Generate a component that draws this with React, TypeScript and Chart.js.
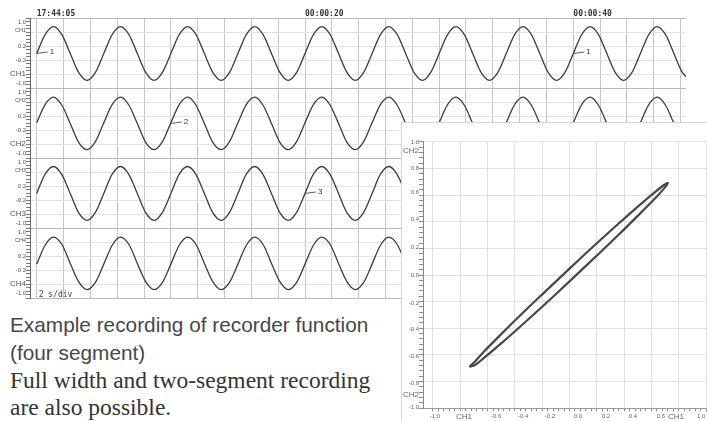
import React, { useEffect, useRef } from "react";
import { Chart, registerables } from "chart.js";

Chart.register(...registerables);

// ---------------- Recorder (four segment, 2 s/div) ----------------
const sampleTimes = [
  0, 0.625, 1.25, 1.875, 2.5, 3.125, 3.75, 4.375,
  5, 5.625, 6.25, 6.875, 7.5, 8.125, 8.75, 9.375,
  10, 10.625, 11.25, 11.875, 12.5, 13.125, 13.75, 14.375,
  15, 15.625, 16.25, 16.875, 17.5, 18.125, 18.75, 19.375,
  20, 20.625, 21.25, 21.875, 22.5, 23.125, 23.75, 24.375,
  25, 25.625, 26.25, 26.875, 27.5, 28.125, 28.75, 29.375,
  30, 30.625, 31.25, 31.875, 32.5, 33.125, 33.75, 34.375,
  35, 35.625, 36.25, 36.875, 37.5, 38.125, 38.75, 39.375,
  40, 40.625, 41.25, 41.875, 42.5, 43.125, 43.75, 44.375,
  45, 45.625, 46.25, 46.875, 47.5, 48.125, 48.75,
];

const ch1Values = [
  0, 0.54, 0.77, 0.54, 0, -0.54, -0.77, -0.54,
  0, 0.54, 0.77, 0.54, 0, -0.54, -0.77, -0.54,
  0, 0.54, 0.77, 0.54, 0, -0.54, -0.77, -0.54,
  0, 0.54, 0.77, 0.54, 0, -0.54, -0.77, -0.54,
  0, 0.54, 0.77, 0.54, 0, -0.54, -0.77, -0.54,
  0, 0.54, 0.77, 0.54, 0, -0.54, -0.77, -0.54,
  0, 0.54, 0.77, 0.54, 0, -0.54, -0.77, -0.54,
  0, 0.54, 0.77, 0.54, 0, -0.54, -0.77, -0.54,
  0, 0.54, 0.77, 0.54, 0, -0.54, -0.77, -0.54,
  0, 0.54, 0.77, 0.54, 0, -0.54, -0.77,
];
const ch2Values = [
  0.02, 0.54, 0.75, 0.52, 0, -0.54, -0.75, -0.52,
  0.02, 0.54, 0.75, 0.52, 0, -0.54, -0.75, -0.52,
  0.02, 0.54, 0.75, 0.52, 0, -0.54, -0.75, -0.52,
  0.02, 0.54, 0.75, 0.52, 0, -0.54, -0.75, -0.52,
  0.02, 0.54, 0.75, 0.52, 0, -0.54, -0.75, -0.52,
  0.02, 0.54, 0.75, 0.52, 0, -0.54, -0.75, -0.52,
  0.02, 0.54, 0.75, 0.52, 0, -0.54, -0.75, -0.52,
  0.02, 0.54, 0.75, 0.52, 0, -0.54, -0.75, -0.52,
  0.02, 0.54, 0.75, 0.52, 0, -0.54, -0.75, -0.52,
  0.02, 0.54, 0.75, 0.52, 0, -0.54, -0.75,
];
const ch3Values = [
  0, 0.55, 0.77, 0.54, 0, -0.55, -0.77, -0.54,
  0, 0.55, 0.77, 0.54, 0, -0.55, -0.77, -0.54,
  0, 0.55, 0.77, 0.54, 0, -0.55, -0.77, -0.54,
  0, 0.55, 0.77, 0.54, 0, -0.55, -0.77, -0.54,
  0, 0.55, 0.77, 0.54, 0, -0.55, -0.77, -0.54,
  0, 0.55, 0.77, 0.54, 0, -0.55, -0.77, -0.54,
  0, 0.55, 0.77, 0.54, 0, -0.55, -0.77, -0.54,
  0, 0.55, 0.77, 0.54, 0, -0.55, -0.77, -0.54,
  0, 0.55, 0.77, 0.54, 0, -0.55, -0.77, -0.54,
  0, 0.55, 0.77, 0.54, 0, -0.55, -0.77,
];
const ch4Values = [
  -0.02, 0.52, 0.75, 0.54, 0, -0.52, -0.75, -0.54,
  -0.02, 0.52, 0.75, 0.54, 0, -0.52, -0.75, -0.54,
  -0.02, 0.52, 0.75, 0.54, 0, -0.52, -0.75, -0.54,
  -0.02, 0.52, 0.75, 0.54, 0, -0.52, -0.75, -0.54,
  -0.02, 0.52, 0.75, 0.54, 0, -0.52, -0.75, -0.54,
  -0.02, 0.52, 0.75, 0.54, 0, -0.52, -0.75, -0.54,
  -0.02, 0.52, 0.75, 0.54, 0, -0.52, -0.75, -0.54,
  -0.02, 0.52, 0.75, 0.54, 0, -0.52, -0.75, -0.54,
  -0.02, 0.52, 0.75, 0.54, 0, -0.52, -0.75, -0.54,
  -0.02, 0.52, 0.75, 0.54, 0, -0.52, -0.75,
];

const channelNames = ["CH1", "CH2", "CH3", "CH4"];
const timeLabelValues = [0, 20, 40];
const timeLabels = ["17:44:05", "00:00:20", "00:00:40"];
const scaleNote = "2 s/div";
const leaderChannels = [0, 1, 2, 0];
const leaderTimes = [0, 10, 20, 40];
const leaderTexts = ["1", "2", "3", "1"];

// ---------------- X-Y (CH1 vs CH2) ----------------
const xyCh1 = [
  0, 0.186, 0.36, 0.509, 0.624, 0.695, 0.72, 0.695, 0.624, 0.509, 0.36, 0.186,
  0, -0.186, -0.36, -0.509, -0.624, -0.695, -0.73, -0.695, -0.624, -0.509, -0.36, -0.186, 0,
];
const xyCh2 = [
  0.048, 0.225, 0.386, 0.521, 0.62, 0.677, 0.69, 0.652, 0.572, 0.453, 0.302, 0.132,
  -0.048, -0.225, -0.386, -0.521, -0.62, -0.677, -0.685, -0.652, -0.572, -0.453, -0.302, -0.132, 0.048,
];
const xyXLabels = ["-1.0", "CH1", "-0.6", "-0.4", "-0.2", "0.0", "0.2", "0.4", "0.6", "CH1", "1.0"];
const xyYLabels = ["1.0", "CH2", "0.8", "0.6", "0.4", "0.2", "0.0", "-0.2", "-0.4", "-0.6", "-0.8", "CH2", "-1.0"];

const captionLines = ["Example recording of recorder function", "(four segment)"];
const noteLines = ["Full width and two-segment recording", "are also possible."];

const LABEL_FONT = '"Liberation Sans", Arial, sans-serif';
const MONO_FONT = '"DejaVu Sans Mono", "Liberation Mono", monospace';

function RecorderChart() {
  const ref = useRef<HTMLCanvasElement | null>(null);
  useEffect(() => {
    if (!ref.current) return;
    const centers = [7, 5, 3, 1];
    const series = [ch1Values, ch2Values, ch3Values, ch4Values];
    const datasets = series.map((vals, ci) => ({
      data: sampleTimes.map((t, i) => ({ x: t, y: centers[ci] + vals[i] })),
      borderColor: "#3c3c3c",
      borderWidth: 1.3,
      pointRadius: 0,
      cubicInterpolationMode: "monotone" as const,
      fill: false,
    }));

    const labelOffsets = [0.88, 0.66, 0.2, -0.2, -0.57, -0.86];
    const yTicks: any[] = [];
    const seen = new Set<string>();
    centers.forEach((c, ci) => {
      for (let k = -10; k <= 10; k++) {
        const v = Math.round((c + k * 0.1) * 1000) / 1000;
        const key = v.toFixed(3);
        if (seen.has(key)) continue;
        seen.add(key);
        let kind = "minor";
        if (Math.abs(k) === 10) kind = "boundary";
        else if (Math.abs(k) === 2 || Math.abs(k) === 6) kind = "grid";
        yTicks.push({ value: v, kind, text: "" });
      }
      const texts = ["1.0", channelNames[ci], "0.2", "-0.2", channelNames[ci], "-1.0"];
      labelOffsets.forEach((o, j) =>
        yTicks.push({ value: c + o + 0.0001, kind: "label", text: texts[j], big: j === 4, small: j === 1 })
      );
    });
    yTicks.sort((a, b) => a.value - b.value);

    const gridTimes: number[] = [];
    for (let t = 0; t <= 48; t += 2) gridTimes.push(t);

    const overlay = {
      id: "recorderOverlay",
      afterDatasetsDraw(chart: any) {
        const { ctx, chartArea } = chart;
        const xs = chart.scales.x;
        const ys = chart.scales.y;
        ctx.save();
        ctx.strokeStyle = "#333";
        ctx.fillStyle = "#333";
        ctx.lineWidth = 0.8;
        ctx.font = `8px ${LABEL_FONT}`;
        ctx.textBaseline = "middle";
        leaderTimes.forEach((t, i) => {
          const px = xs.getPixelForValue(t);
          const py = ys.getPixelForValue(centers[leaderChannels[i]]);
          ctx.beginPath();
          ctx.moveTo(px, py);
          ctx.lineTo(px + 11, py - 1.5);
          ctx.stroke();
          ctx.fillText(leaderTexts[i], px + 13, py - 2);
        });
        ctx.font = `8px ${MONO_FONT}`;
        ctx.fillStyle = "#444";
        ctx.textBaseline = "alphabetic";
        ctx.fillText(scaleNote, xs.getPixelForValue(0) + 2, chartArea.bottom - 1);
        ctx.restore();
      },
    };

    const chart = new Chart(ref.current, {
      type: "line",
      data: { datasets } as any,
      options: {
        responsive: false,
        animation: false,
        events: [],
        plugins: { legend: { display: false }, tooltip: { enabled: false } },
        layout: { padding: { left: 0, right: 21, top: 0, bottom: 2 } },
        scales: {
          x: {
            type: "linear",
            position: "top",
            min: -0.5,
            max: 48.4,
            afterBuildTicks: (s: any) => {
              s.ticks = gridTimes.map((v) => ({ value: v }));
            },
            afterFit: (s: any) => {
              s.height = 18.5;
            },
            grid: { color: "#c6c6c6", drawTicks: false, lineWidth: 1 },
            border: { display: false },
            ticks: {
              autoSkip: false,
              maxRotation: 0,
              align: "start",
              padding: 0,
              color: "#333",
              font: { family: MONO_FONT, size: 8, weight: "bold" },
              callback: (v: any) => {
                const k = timeLabelValues.indexOf(v);
                return k >= 0 ? timeLabels[k] : "";
              },
            },
          },
          y: {
            type: "linear",
            min: 0,
            max: 8,
            afterBuildTicks: (s: any) => {
              s.ticks = yTicks.map((t) => ({ ...t }));
            },
            afterFit: (s: any) => {
              s.width = 30;
            },
            border: { display: true, color: "#666", width: 1 },
            grid: {
              tickLength: 4,
              color: (ctx: any) => {
                const k = ctx.tick && ctx.tick.kind;
                if (k === "boundary") return "#b9b9b9";
                if (k === "grid") return "#e2e2e2";
                return "rgba(0,0,0,0)";
              },
              tickColor: (ctx: any) => {
                const k = ctx.tick && ctx.tick.kind;
                return k === "label" ? "rgba(0,0,0,0)" : "#777";
              },
            },
            ticks: {
              autoSkip: false,
              padding: 0,
              color: "#555",
              font: (ctx: any) => ({
                family: LABEL_FONT,
                size: ctx.tick && ctx.tick.big ? 8 : ctx.tick && ctx.tick.small ? 5.5 : 6,
              }),
              callback: (_v: any, i: number, ticks: any[]) => (ticks[i] && ticks[i].text) || "",
            },
          },
        },
      } as any,
      plugins: [overlay],
    });
    return () => chart.destroy();
  }, []);
  return (
    <canvas
      ref={ref}
      width={707}
      height={302}
      style={{ position: "absolute", left: 0, top: 0, width: 707, height: 302 }}
    />
  );
}

function XYChart() {
  const ref = useRef<HTMLCanvasElement | null>(null);
  useEffect(() => {
    if (!ref.current) return;
    const xLabelAt = [-0.985, -0.773, -0.538, -0.34, -0.143, 0.062, 0.267, 0.465, 0.67, 0.78, 0.965];
    const yLabelAt = [0.995, 0.935, 0.8, 0.62, 0.42, 0.21, 0, -0.21, -0.41, -0.61, -0.81, -0.9, -0.995];

    const ruler = (labels: string[], at: number[], bigName: string) => {
      const out: any[] = [];
      for (let k = -25; k <= 25; k++) {
        const v = Math.round(k * 0.04 * 1000) / 1000;
        out.push({ value: v, kind: k % 5 === 0 ? "grid" : "minor", text: "" });
      }
      labels.forEach((t, i) =>
        out.push({ value: at[i] + 0.0001, kind: "label", text: t, big: t === bigName })
      );
      out.sort((a, b) => a.value - b.value);
      return out;
    };
    const xTicks = ruler(xyXLabels, xLabelAt, "CH1");
    const yTicks = ruler(xyYLabels, yLabelAt, "CH2");

    const gridColor = (ctx: any) => (ctx.tick && ctx.tick.kind === "grid" ? "#e0e0e0" : "rgba(0,0,0,0)");
    const tickColor = (ctx: any) => (ctx.tick && ctx.tick.kind === "label" ? "rgba(0,0,0,0)" : "#8a8a8a");
    const tickFont = (ctx: any) => ({ family: LABEL_FONT, size: ctx.tick && ctx.tick.big ? 8 : 6 });
    const tickCb = (_v: any, i: number, ticks: any[]) => (ticks[i] && ticks[i].text) || "";

    const chart = new Chart(ref.current, {
      type: "line",
      data: {
        datasets: [
          {
            data: xyCh1.map((x, i) => ({ x, y: xyCh2[i] })),
            borderColor: "#474747",
            borderWidth: 2.2,
            pointRadius: 0,
            tension: 0.3,
            fill: false,
          },
        ],
      } as any,
      options: {
        responsive: false,
        animation: false,
        events: [],
        plugins: { legend: { display: false }, tooltip: { enabled: false } },
        layout: { padding: { left: 0, right: 1, top: 18.7, bottom: 0 } },
        scales: {
          x: {
            type: "linear",
            min: -1.073,
            max: 1.0,
            afterBuildTicks: (s: any) => {
              s.ticks = xTicks.map((t) => ({ ...t }));
            },
            afterFit: (s: any) => {
              s.height = 12.7;
            },
            border: { display: true, color: "#9a9a9a", width: 1 },
            grid: { tickLength: 3, color: gridColor, tickColor },
            ticks: { autoSkip: false, maxRotation: 0, padding: 1, color: "#666", font: tickFont, callback: tickCb },
          },
          y: {
            type: "linear",
            min: -1.0,
            max: 1.0,
            afterBuildTicks: (s: any) => {
              s.ticks = yTicks.map((t) => ({ ...t }));
            },
            afterFit: (s: any) => {
              s.width = 21;
            },
            border: { display: true, color: "#888", width: 1 },
            grid: { tickLength: 4, color: gridColor, tickColor },
            ticks: { autoSkip: false, padding: 0, color: "#666", font: tickFont, callback: tickCb },
          },
        },
      } as any,
    });
    return () => chart.destroy();
  }, []);
  return (
    <canvas
      ref={ref}
      width={305}
      height={298}
      style={{ position: "absolute", left: 0, top: 0, width: 305, height: 298 }}
    />
  );
}

export default function App() {
  const sans: React.CSSProperties = {
    position: "absolute",
    left: 10,
    fontFamily: '"Liberation Sans", Arial, sans-serif',
    fontSize: 20.8,
    lineHeight: "20.8px",
    color: "#474747",
    whiteSpace: "nowrap",
  };
  const serif: React.CSSProperties = {
    position: "absolute",
    left: 10,
    fontFamily: '"Liberation Serif", "Times New Roman", serif',
    fontSize: 23.5,
    lineHeight: "23.5px",
    color: "#333",
    whiteSpace: "nowrap",
  };
  return (
    <div
      style={{
        position: "fixed",
        left: 0,
        top: 0,
        width: 707,
        height: 421,
        background: "#fff",
        overflow: "hidden",
      }}
    >
      <RecorderChart />
      <div
        style={{
          position: "absolute",
          left: 401,
          top: 122,
          width: 306,
          height: 299,
          boxSizing: "border-box",
          borderLeft: "1px solid #d4d4d4",
          borderTop: "1px solid #d4d4d4",
          background: "#fff",
        }}
      >
        <XYChart />
      </div>
      <div style={{ ...sans, top: 315 }}>{captionLines[0]}</div>
      <div style={{ ...sans, top: 343 }}>{captionLines[1]}</div>
      <div style={{ ...serif, top: 369 }}>{noteLines[0]}</div>
      <div style={{ ...serif, top: 396 }}>{noteLines[1]}</div>
    </div>
  );
}
